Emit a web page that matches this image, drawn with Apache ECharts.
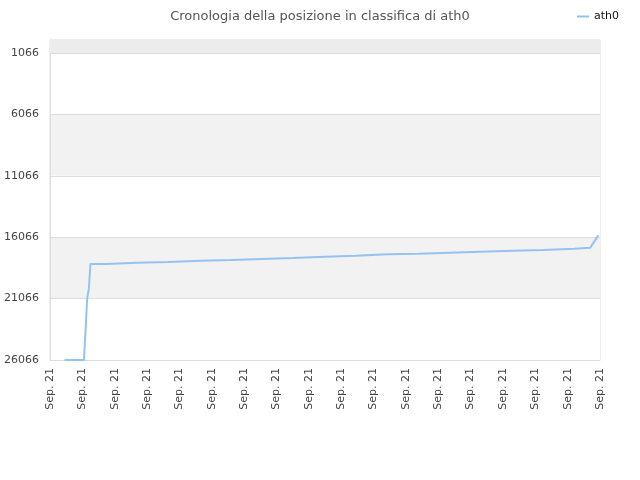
<!DOCTYPE html>
<html>
<head>
<meta charset="utf-8">
<script src="https://cdn.jsdelivr.net/npm/echarts@6/dist/echarts.min.js"></script>
<style>html,body{margin:0;padding:0;background:#fff}#c{width:640px;height:480px}</style>
</head>
<body>
<div id="c"></div>
<script>
// x categories (all labelled "Sep. 21")
const categoryCount = 341;
const categories = Array.from({length: categoryCount}, () => 'Sep. 21');
// rank points: category index and rank value
const pointIdx = [9, 21, 22, 23, 24, 25, 35, 36, 54, 55, 73, 74, 93, 94, 112, 113, 131, 132, 150, 151, 170, 171, 189, 190, 209, 210, 228, 229, 247, 248, 266, 267, 286, 287, 305, 306, 324, 325, 334, 339];
const rankVals = [26066, 26066, 23600, 21000, 20300, 18242, 18242, 18136, 18136, 18079, 18079, 17973, 17973, 17916, 17916, 17835, 17835, 17753, 17753, 17647, 17647, 17566, 17566, 17452, 17452, 17403, 17403, 17321, 17321, 17240, 17240, 17158, 17158, 17101, 17101, 16995, 16995, 16913, 16913, 15903];
// y tick labels
const yTicks = [1066, 6066, 11066, 16066, 21066, 26066];
const yMin = 1;
const yMax = 26066;

const chart = echarts.init(document.getElementById('c'));
chart.setOption({
  animation: false,
  title: {
    text: 'Cronologia della posizione in classifica di ath0',
    left: 'center', top: 5,
    textStyle: {fontFamily: 'DejaVu Sans', fontSize: 13, fontWeight: 'normal', color: '#555'}
  },
  legend: {
    right: 16, top: 6,
    itemWidth: 12, itemHeight: 2,
    icon: 'rect',
    textStyle: {fontFamily: 'DejaVu Sans', fontSize: 11, color: '#111'},
    data: ['ath0']
  },
  grid: {left: 50, right: 40, top: 40, bottom: 120, outerBoundsMode: 'none', containLabel: false, show: true, borderColor: '#ddd', borderWidth: 1, backgroundColor: 'transparent'},
  xAxis: {
    type: 'category',
    data: categories,
    boundaryGap: false,
    axisLine: {show: true, lineStyle: {color: '#ddd'}},
    axisTick: {show: false},
    axisLabel: {interval: 19, rotate: 90, fontFamily: 'DejaVu Sans', fontSize: 11, color: '#444', margin: 8},
    splitLine: {show: false}
  },
  yAxis: {
    type: 'value',
    inverse: true,
    min: yMin, max: yMax,
    axisLine: {show: true, lineStyle: {color: '#ddd'}},
    axisTick: {show: false, customValues: yTicks},
    axisLabel: {customValues: yTicks, formatter: v => String(v), fontFamily: 'DejaVu Sans', fontSize: 11, color: '#444', margin: 11},
    splitLine: {show: true, lineStyle: {color: '#ddd'}},
    splitArea: {show: true, areaStyle: {color: ['#ffffff', '#f2f2f2']}}
  },
  series: [{
    name: 'ath0',
    type: 'line',
    data: pointIdx.map((x, i) => [x, rankVals[i]]),
    showSymbol: false,
    symbol: 'none',
    lineStyle: {color: '#93c3f2', width: 2},
    itemStyle: {color: '#93c3f2'},
    markArea: {
      silent: true,
      itemStyle: {color: '#ececec'},
      data: [[{yAxis: yMin}, {yAxis: yTicks[0]}]]
    }
  }]
});
</script>
</body>
</html>
